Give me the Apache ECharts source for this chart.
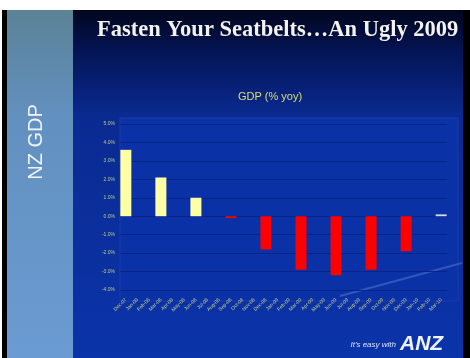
<!DOCTYPE html>
<html>
<head>
<meta charset="utf-8">
<script src="https://cdn.jsdelivr.net/npm/echarts@6/dist/echarts.min.js"></script>
<style>
html,body{margin:0;padding:0;background:#ffffff;}
#chart{width:470px;height:358px;}
</style>
</head>
<body>
<div id="chart"></div>
<script>
// Monthly category labels (x axis)
var months = ['Dec-07','Jan-08','Feb-08','Mar-08','Apr-08','May-08','Jun-08','Jul-08','Aug-08','Sep-08','Oct-08','Nov-08','Dec-08',
  'Jan-09','Feb-09','Mar-09','Apr-09','May-09','Jun-09','Jul-09','Aug-09','Sep-09','Oct-09','Nov-09','Dec-09','Jan-10','Feb-10','Mar-10'];
// Quarterly GDP (% yoy) observations
var quarters = ['Dec-07','Mar-08','Jun-08','Sep-08','Dec-08','Mar-09','Jun-09','Sep-09','Dec-09','Mar-10'];
var gdpYoY   = [3.6, 2.1, 1.0, -0.1, -1.8, -2.9, -3.2, -2.9, -1.9, 0.1];
var kind     = ['actual','actual','actual','forecast','forecast','forecast','forecast','forecast','forecast','other'];
// Y axis ticks
var yTicks = [5, 4, 3, 2, 1, 0, -1, -2, -3, -4];

var kindColor = {actual:'#FFFFA6', forecast:'#FF0000', other:'#D6DDE8'};

var data = months.map(function(m){
  var qi = quarters.indexOf(m);
  if (qi < 0) return '-';
  return {value: gdpYoY[qi], itemStyle:{color: kindColor[kind[qi]]}};
});

var chart = echarts.init(document.getElementById('chart'), null, {renderer:'canvas'});
chart.setOption({
  animation:false,
  backgroundColor:'#ffffff',
  graphic:[
    {type:'rect', z:-10, shape:{x:0,y:10,width:470,height:348}, style:{fill:'#000000'}},
    {type:'rect', z:-9, shape:{x:73,y:10,width:390,height:348},
      style:{fill:new echarts.graphic.LinearGradient(0,0,0,1,[
        {offset:0,color:'#01061e'},{offset:0.12,color:'#041456'},{offset:0.3,color:'#0a2a90'},{offset:1,color:'#0b34aa'}])}},
    {type:'rect', z:-9, shape:{x:7,y:10,width:66,height:348},
      style:{fill:new echarts.graphic.LinearGradient(0,0,0,1,[
        {offset:0,color:'#5b8296'},{offset:0.3,color:'#6290bf'},{offset:1,color:'#6a9bd2'}])}},
    {type:'rect', z:-9, shape:{x:0,y:10,width:2,height:348}, style:{fill:'#ffffff'}},
    {type:'rect', z:-8, shape:{x:120,y:118,width:338,height:183}, style:{fill:'#0b31a6', stroke:'#1a3ab0', lineWidth:1}},
    {type:'text', left:97, top:19, style:{text:'Fasten Your Seatbelts…An Ugly 2009', fill:'#f2f2f2',
      font:'bold 22.5px "Liberation Serif", serif', textShadowColor:'rgba(0,0,0,0.6)', textShadowBlur:2}},
    {type:'text', x:36, y:142, rotation:Math.PI/2,
      style:{text:'NZ GDP', fill:'#f0f4f8', font:'20px "Liberation Sans", Arial, sans-serif', letterSpacing:3, align:'center', verticalAlign:'middle'}},
    {type:'text', x:270, y:97, style:{text:'GDP (% yoy)', fill:'#dcdf72', font:'11px "Liberation Sans", Arial, sans-serif', align:'center', verticalAlign:'middle'}},
    {type:'line', z:-7, shape:{x1:340,y1:296,x2:462,y2:263}, style:{stroke:'rgba(120,160,230,0.35)', lineWidth:2}},
    {type:'text', x:396, y:345, style:{text:"It's easy with", fill:'#dfe6f5', font:'italic 8px "Liberation Sans", Arial, sans-serif', align:'right', verticalAlign:'middle'}},
    {type:'text', x:400, y:344, style:{text:'ANZ', fill:'#eef2fa', font:'italic 900 21px "Liberation Sans", Arial, sans-serif', letterSpacing:2, verticalAlign:'middle'}}
  ],
  grid:{left:120, right:23, top:124, bottom:68, containLabel:false},
  xAxis:{
    type:'category', data:months, boundaryGap:true,
    axisLine:{show:false}, axisTick:{show:false},
    axisLabel:{interval:0, rotate:45, fontSize:5, color:'#c8d08c', margin:9, fontFamily:'Liberation Sans'}
  },
  yAxis:{
    type:'value', min:-4, max:5, interval:1,
    axisLine:{show:false}, axisTick:{show:false},
    axisLabel:{fontSize:5, color:'#b8cc88', margin:5, fontFamily:'Liberation Sans',
      formatter:function(v){ return yTicks.indexOf(v) >= 0 ? v.toFixed(1) + '%' : ''; }},
    splitLine:{lineStyle:{color:'#082486', width:1}}
  },
  series:[{type:'bar', data:data, barWidth:11}]
});
</script>
</body>
</html>
